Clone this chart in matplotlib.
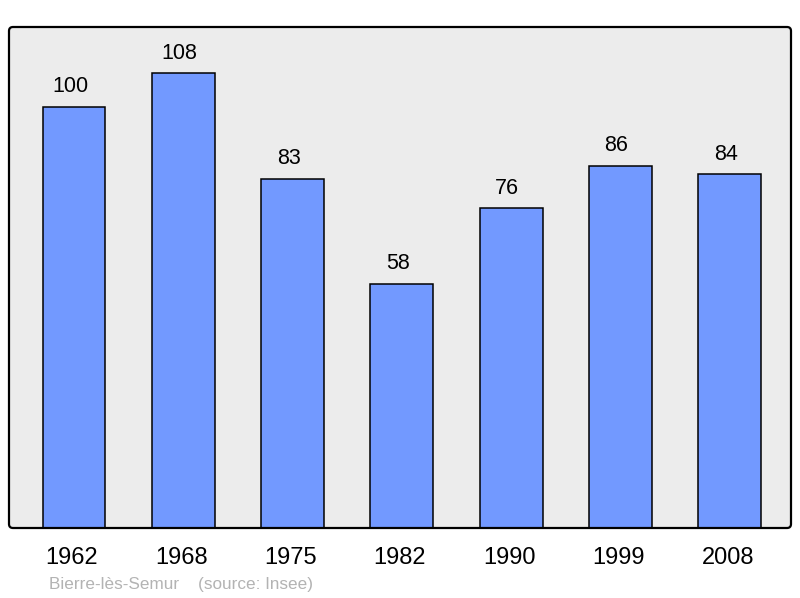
import matplotlib
matplotlib.use("Agg")
import matplotlib.pyplot as plt
from matplotlib.patches import FancyBboxPatch
from matplotlib.transforms import IdentityTransform, offset_copy

years = ["1962", "1968", "1975", "1982", "1990", "1999", "2008"]
population = [100, 108, 83, 58, 76, 86, 84]
commune = "Bierre-lès-Semur"
source = "(source: Insee)"

plt.rcParams['font.family'] = ['Liberation Sans', 'DejaVu Sans']

fig = plt.figure(figsize=(8, 5.98), dpi=100)
fig.patch.set_facecolor('white')
L, B, W, H = 9, 70, 782, 501
ax = fig.add_axes([L/800, B/598, W/800, H/598])
ax.set_facecolor('none')
for s in ax.spines.values():
    s.set_visible(False)

bg = FancyBboxPatch((L, B), W, H, boxstyle="round,pad=0,rounding_size=4",
                    transform=IdentityTransform(), facecolor='#ececec',
                    edgecolor='none', zorder=-5)
fig.add_artist(bg)
border = FancyBboxPatch((L, B), W, H, boxstyle="round,pad=0,rounding_size=4",
                        transform=IdentityTransform(), facecolor='none',
                        edgecolor='black', linewidth=1.6, zorder=10)
fig.add_artist(border)

x = list(range(len(years)))
ax.bar(x, population, width=0.575, color='#7299ff', edgecolor='black',
       linewidth=1.1, zorder=3)
ax.set_xlim(-0.595, 6.56)
ax.set_ylim(0, 119)

lab_tr = offset_copy(ax.transData, fig=fig, x=-4, y=20, units='dots')
for xi, v in zip(x, population):
    ax.text(xi, v, str(v), ha='center', va='center', fontsize=15.5,
            transform=lab_tr)

tick_tr = offset_copy(ax.get_xaxis_transform(), fig=fig, x=-2, y=-30, units='dots')
for xi, yr in zip(x, years):
    ax.text(xi, 0, yr, ha='center', va='center', fontsize=17, transform=tick_tr)
ax.set_xticks([])
ax.set_yticks([])

fig.text(49/800, 1 - 584/598, commune + "    " + source, fontsize=12.3,
         color='#b3b3b3', ha='left', va='center')

fig.savefig('out.png', dpi=100)
